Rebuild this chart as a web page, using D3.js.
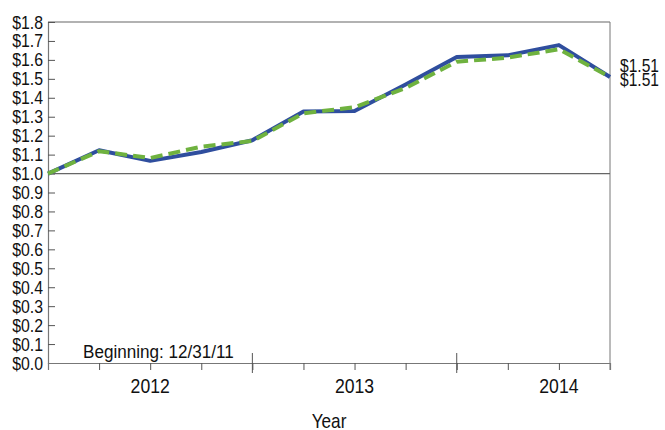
<!DOCTYPE html>
<html>
<head>
<meta charset="utf-8">
<script src="https://cdn.jsdelivr.net/npm/d3@7"></script>
<style>
body { margin: 0; background: #fff; }
svg text { fill: #111; font-family: 'Liberation Sans', Arial, sans-serif; }
</style>
</head>
<body>
<div id="chart"></div>
<script>
// quarter-end dates, 12/31/11 .. 9/30/14
var quarters = ["2011-12-31", "2012-03-31", "2012-06-30", "2012-09-30", "2012-12-31",
                "2013-03-31", "2013-06-30", "2013-09-30", "2013-12-31",
                "2014-03-31", "2014-06-30", "2014-09-30"];
var seriesBlue  = [1.00, 1.123, 1.067, 1.114, 1.176, 1.328, 1.330, 1.470, 1.615, 1.624, 1.678, 1.51];
var seriesGreen = [1.00, 1.118, 1.082, 1.142, 1.172, 1.318, 1.350, 1.452, 1.590, 1.612, 1.656, 1.51];
var yTicks = [0, 0.1, 0.2, 0.3, 0.4, 0.5, 0.6, 0.7, 0.8, 0.9, 1.0, 1.1, 1.2, 1.3, 1.4, 1.5, 1.6, 1.7, 1.8];
var yearLabels = ["2012", "2013", "2014"];
var yearLabelDates = ["2012-06-30", "2013-06-30", "2014-06-30"];
var yearStarts = ["2012-12-31", "2013-12-31"];
var endLabels = ["$1.51", "$1.51"];

var w = 665, h = 430;
var margin = {top: 22, right: 55, bottom: 67, left: 48};

var svg = d3.select("#chart").append("svg")
   .attr("width", w)
   .attr("height", h);

// no narrow font available -> squeeze normal sans horizontally
function label(g, tx, ty, sx, size, anchor) {
  return g.append("text")
   .attr("transform", "translate(" + tx + "," + ty + ") scale(" + sx + ",1)")
   .attr("text-anchor", anchor || "start")
   .attr("font-size", size + "px");
}

// quarters are evenly spaced on the original chart, so use an index scale
var x = d3.scaleLinear()
   .domain([0, quarters.length - 1])
   .range([margin.left, w - margin.right]);
var qx = function(s) { return x(quarters.indexOf(s)); };

var y = d3.scaleLinear()
   .domain([0, 1.8])
   .range([h - margin.bottom, margin.top]);

var x0 = x.range()[0], x1 = x.range()[1];
var y0 = y.range()[0], y1 = y.range()[1];

// frame
svg.append("line").attr("x1", x0).attr("x2", x1).attr("y1", y1).attr("y2", y1)
   .attr("stroke", "#999").attr("stroke-width", 1.5);
svg.append("line").attr("x1", x1).attr("x2", x1).attr("y1", y1).attr("y2", y0 + 7)
   .attr("stroke", "#777").attr("stroke-width", 1);

// y axis, ticks pointing inside
var yAxis = svg.append("g")
   .attr("transform", "translate(" + x0 + ",0)")
   .call(d3.axisRight(y).tickValues(yTicks).tickSize(7).tickFormat(""));
yAxis.select(".domain").attr("stroke", "#777").attr("stroke-width", 1.2);
yAxis.selectAll(".tick line").attr("stroke", "#555");

var yl = svg.append("g");
yTicks.forEach(function(d) {
  label(yl, x0 - 5, y(d) + 6.5, 0.88, 18, "end").text("$" + d.toFixed(1));
});

// x axis: quarter ticks, long ticks at year boundaries
var xAxis = svg.append("g")
   .attr("transform", "translate(0," + y0 + ")")
   .call(d3.axisBottom(x).tickValues(d3.range(1, quarters.length - 1)).tickSize(7).tickFormat(""));
xAxis.select(".domain").attr("stroke", "#777").attr("stroke-width", 1.2);
xAxis.selectAll(".tick line").attr("stroke", "#555");

svg.append("g").selectAll("line")
   .data(yearStarts)
   .enter()
   .append("line")
   .attr("x1", qx).attr("x2", qx)
   .attr("y1", y0 - 10).attr("y2", y0 + 10)
   .attr("stroke", "#555");

var xl = svg.append("g");
yearLabels.forEach(function(d, i) {
  label(xl, qx(yearLabelDates[i]), y0 + 30, 0.84, 21, "middle").text(d);
});

label(svg, 329, h - 2, 0.86, 20, "middle").text("Year");

// $1.00 reference line
svg.append("line")
   .attr("x1", x0).attr("x2", x1)
   .attr("y1", y(1)).attr("y2", y(1))
   .attr("stroke", "#666").attr("stroke-width", 1.2);

var line = d3.line()
   .x(function(d, i) { return x(i); })
   .y(function(d) { return y(d); });

svg.append("path")
   .datum(seriesBlue)
   .attr("d", line)
   .attr("fill", "none")
   .attr("stroke", "#2f4e9e")
   .attr("stroke-width", 4)
   .attr("stroke-linejoin", "round");

svg.append("path")
   .datum(seriesGreen)
   .attr("d", line)
   .attr("fill", "none")
   .attr("stroke", "#6fb23f")
   .attr("stroke-width", 4)
   .attr("stroke-dasharray", "12,6");

// end value labels
var el = svg.append("g");
endLabels.forEach(function(d, i) {
  label(el, x1 + 10, 72 + i * 14, 0.82, 19).text(d);
});

label(svg, 83, 358, 0.9, 19).text("Beginning: 12/31/11");
</script>
</body>
</html>
